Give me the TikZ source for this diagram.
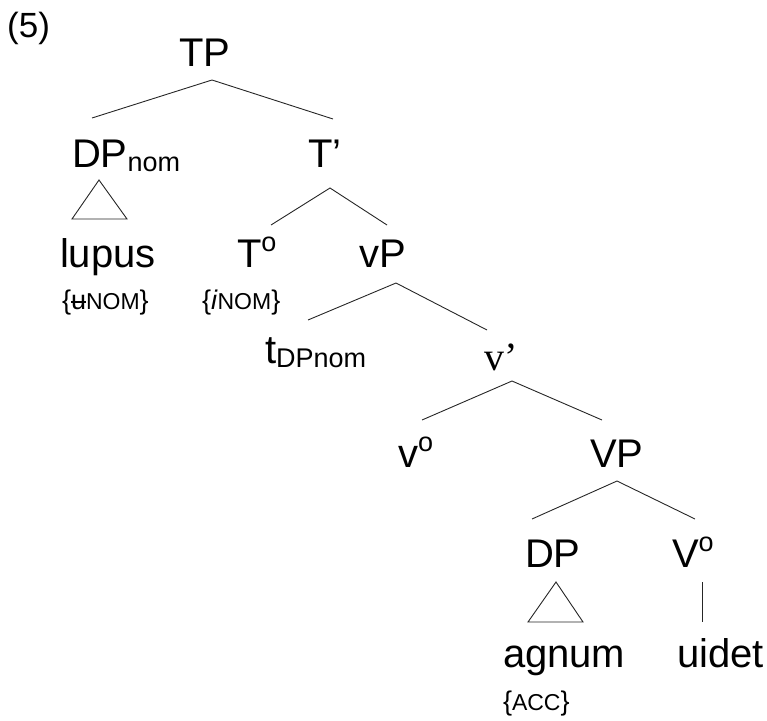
\documentclass[tikz,border=0pt]{standalone}
\usepackage{fontspec}
\setmainfont{Liberation Sans}
\newfontfamily\tnr{Liberation Serif}
\newcommand\fsz[1]{\fontsize{#1}{#1}\selectfont}
\newcommand\strk[1]{\rlap{\rule[0.24em]{0.56em}{1.3pt}}#1}
\newcommand\lsub[1]{\raisebox{-4pt}{\fsz{27}#1}}
\newcommand\supo{\raisebox{16pt}{\fsz{27}o}}
\newcommand\feat[1]{{\fsz{23}#1}}
\begin{document}
\begin{tikzpicture}[x=1pt,y=-1pt,
  lbl/.style={inner sep=0pt,outer sep=0pt,anchor=base west,font=\fsz{40}},
  small/.style={inner sep=0pt,outer sep=0pt,anchor=base west,font=\fsz{27}},
  edge/.style={line width=0.9pt,draw=black!85}]
\useasboundingbox (0,0) rectangle (767,720);
% labels
\node[inner sep=0pt,anchor=base west,font=\fsz{35}] (num) at (7,37) {(5)};
\node[lbl] (TP) at (179,66) {TP};
\node[lbl] (DPnom) at (72,167) {DP\lsub{nom}};
\node[lbl] (Tbar) at (308,167) {T’};
\node[lbl] (lupus) at (60,267) {lupus};
\node[small] (uNOM) at (62,309) {\{\strk{u}\feat{NOM}\}};
\node[lbl] (To) at (237,267) {T\supo};
\node[small] (iNOM) at (202,309) {\{\textit{i}\feat{NOM}\}};
\node[lbl] (vP) at (359,267) {vP};
\node[lbl] (tDP) at (265,363) {t\lsub{DPnom}};
\node[lbl,font=\fsz{40}\tnr] (vbar) at (484,370) {v’};
\node[lbl] (vo) at (398,467) {v\supo};
\node[lbl] (VP) at (590,467) {VP};
\node[lbl] (DP) at (525,567) {DP};
\node[lbl] (Vo) at (672,567) {V\supo};
\node[lbl] (agnum) at (503,667) {agnum};
\node[lbl] (uidet) at (677,667) {uidet};
\node[small] (acc) at (503,710) {\{\feat{ACC}\}};
% branch points
\coordinate (TPb) at (212,80);
\coordinate (DPnomt) at (92,118);
\coordinate (Tbart) at (333,119);
\coordinate (Tbarb) at (330,188);
\coordinate (Tot) at (271,225);
\coordinate (vPt) at (387,225);
\coordinate (vPb) at (396,283);
\coordinate (tDPt) at (308,320);
\coordinate (vbart) at (487,330);
\coordinate (vbarb) at (512,381);
\coordinate (vot) at (422,420);
\coordinate (VPt) at (602,420);
\coordinate (VPb) at (617,481);
\coordinate (DPt) at (532,519);
\coordinate (Vot) at (695,519);
\coordinate (tri1a) at (99,180);
\coordinate (tri1b) at (72,219);
\coordinate (tri1c) at (127,219);
\coordinate (tri2a) at (556,582);
\coordinate (tri2b) at (528,622);
\coordinate (tri2c) at (583,622);
\coordinate (Vob) at (702,582);
\coordinate (uidett) at (702,622);
% edges
\draw[edge] (DPnomt) -- (TPb) -- (Tbart);
\draw[edge] (Tot) -- (Tbarb) -- (vPt);
\draw[edge] (tDPt) -- (vPb) -- (vbart);
\draw[edge] (vot) -- (vbarb) -- (VPt);
\draw[edge] (DPt) -- (VPb) -- (Vot);
\draw[edge] (tri1a) -- (tri1b) -- (tri1c) -- cycle;
\draw[edge] (tri2a) -- (tri2b) -- (tri2c) -- cycle;
\draw[edge] (Vob) -- (uidett);
\end{tikzpicture}
\end{document}
